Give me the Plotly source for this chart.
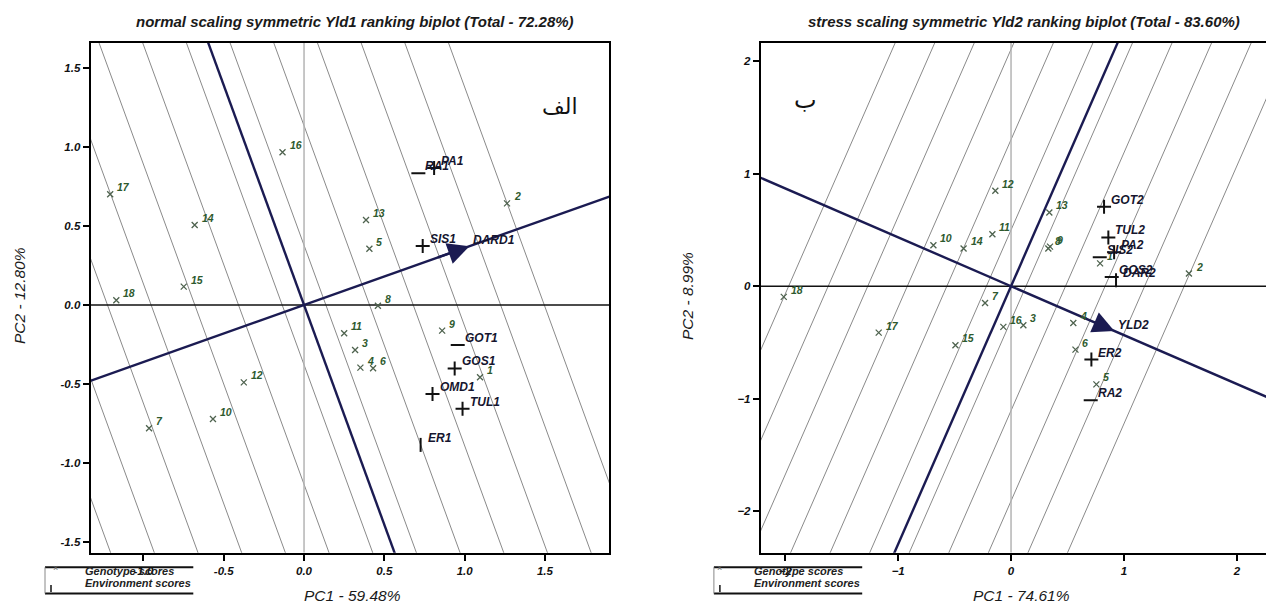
import numpy as np
import plotly.graph_objects as go

W, H = 1266, 606

# ---------------- data ----------------
GENOTYPES = [str(i) for i in range(1, 19)]

# normal scaling (Yld1) biplot
N_G_PC1 = [1.096, 1.264, 0.318, 0.351, 0.407, 0.430, -0.965, 0.460, 0.860, -0.567,
           0.250, -0.375, 0.386, -0.681, -0.749, -0.134, -1.207, -1.169]
N_G_PC2 = [-0.457, 0.642, -0.284, -0.396, 0.355, -0.400, -0.779, -0.005, -0.162, -0.720,
           -0.179, -0.489, 0.537, 0.505, 0.116, 0.965, 0.699, 0.030]
N_E_NAMES = ['RA1', 'PA1', 'SIS1', 'GOT1', 'GOS1', 'OMD1', 'TUL1', 'ER1']
N_E_PC1 = [0.712, 0.810, 0.739, 0.957, 0.938, 0.800, 0.987, 0.726]
N_E_PC2 = [0.832, 0.866, 0.373, -0.253, -0.401, -0.562, -0.655, -0.884]
N_AEC_TIP = [1.03, 0.371]
N_AEC_NAME = 'DARD1'
N_RANK_STEP = 0.272
N_RANK_K = list(range(-7, 6))

# stress scaling (Yld2) biplot
S_G_PC1 = [0.788, 1.574, 0.109, 0.551, 0.755, 0.570, -0.230, 0.330, 0.345, -0.687,
           -0.165, -0.139, 0.339, -0.420, -0.492, -0.068, -1.171, -2.011]
S_G_PC2 = [0.203, 0.113, -0.347, -0.327, -0.873, -0.564, -0.149, 0.336, 0.352, 0.365,
           0.463, 0.849, 0.656, 0.336, -0.525, -0.362, -0.413, -0.095]
S_E_NAMES = ['GOT2', 'TUL2', 'PA2', 'SIS2', 'GOS2', 'DAR2', 'ER2', 'RA2']
S_E_PC1 = [0.823, 0.861, 0.912, 0.785, 0.891, 0.929, 0.711, 0.705]
S_E_PC2 = [0.706, 0.434, 0.303, 0.258, 0.083, 0.053, -0.653, -1.015]
S_AEC_TIP = [0.914, -0.398]
S_AEC_NAME = 'YLD2'
S_RANK_STEP = 0.35
S_RANK_K = list(range(0, 11))
S_RANK_START = -1.968

N_XTICKS = [-1.0, -0.5, 0.0, 0.5, 1.0, 1.5]
N_XTICKTEXT = ['-1.0', '-0.5', '0.0', '0.5', '1.0', '1.5']
N_YTICKS = [-1.5, -1.0, -0.5, 0.0, 0.5, 1.0, 1.5]
N_YTICKTEXT = ['-1.5', '-1.0', '-0.5', '0.0', '0.5', '1.0', '1.5']
S_XTICKS = [-2, -1, 0, 1, 2]
S_YTICKS = [-2, -1, 0, 1, 2]

N_TITLE = 'normal scaling symmetric Yld1 ranking biplot (Total - 72.28%)'
S_TITLE = 'stress scaling symmetric Yld2 ranking biplot (Total - 83.60%)'
N_XTITLE, N_YTITLE = 'PC1 - 59.48%', 'PC2 - 12.80%'
S_XTITLE, S_YTITLE = 'PC1 - 74.61%', 'PC2 - 8.99%'

# ---------------- styles ----------------
N_E_SYMBOL = {'RA1': 'line-ew', 'GOT1': 'line-ew', 'ER1': 'line-ns'}
S_E_SYMBOL = {'SIS2': 'line-ew', 'GOS2': 'line-ew', 'RA2': 'line-ew', 'DAR2': 'line-ns'}

NAVY = '#1b1b52'
G_MARK = '#4f634f'
G_TEXT = '#2e5a2e'
E_TEXT = '#15152e'
FONT = 'Liberation Sans, Arial, sans-serif'

N_XR, N_YR = [-1.329, 1.899], [-1.565, 1.655]
S_XR, S_YR = [-2.216, 2.256], [-2.371, 2.164]


def px(x):
    return x / W


def py(y):
    return 1 - y / H


fig = go.Figure()
annotations = []
shapes = []


def panel(xa, ya, xr, yr, g_x, g_y, e_names, e_x, e_y, e_sym, tip, tip_name,
          rank_cs):
    s = tip[1] / tip[0]
    d = np.array([1.0, s])
    e = np.array([-s, 1.0]) / np.hypot(s, 1.0)
    t = np.array([-20.0, 20.0])
    # ranking lines, perpendicular to the average-environment axis
    for c in rank_cs:
        p0 = c * d / d.dot(d)
        pts = p0[:, None] + e[:, None] * t
        fig.add_trace(go.Scatter(x=pts[0], y=pts[1], mode='lines',
                                 line=dict(color='#8a8a8a', width=1),
                                 xaxis=xa, yaxis=ya, hoverinfo='skip', showlegend=False))
    # x = 0 light line, y = 0 black line
    fig.add_trace(go.Scatter(x=[0, 0], y=[yr[0], yr[1]], mode='lines',
                             line=dict(color='#b4b4b4', width=1.5),
                             xaxis=xa, yaxis=ya, hoverinfo='skip', showlegend=False))
    fig.add_trace(go.Scatter(x=[xr[0], xr[1]], y=[0, 0], mode='lines',
                             line=dict(color='#111111', width=1.6),
                             xaxis=xa, yaxis=ya, hoverinfo='skip', showlegend=False))
    # AEC abscissa and ordinate
    fig.add_trace(go.Scatter(x=[-20, 20], y=[-20 * s, 20 * s], mode='lines',
                             line=dict(color=NAVY, width=2.4),
                             xaxis=xa, yaxis=ya, hoverinfo='skip', showlegend=False))
    fig.add_trace(go.Scatter(x=[40 * e[0], -40 * e[0]], y=[40 * e[1], -40 * e[1]],
                             mode='lines', line=dict(color=NAVY, width=2.4),
                             xaxis=xa, yaxis=ya, hoverinfo='skip', showlegend=False))
    # genotypes
    fig.add_trace(go.Scatter(x=g_x, y=g_y, mode='markers',
                             marker=dict(symbol='x-thin', size=6,
                                         line=dict(color=G_MARK, width=1.3)),
                             xaxis=xa, yaxis=ya, showlegend=False))
    # environments
    syms = [e_sym.get(n, 'cross-thin') for n in e_names]
    fig.add_trace(go.Scatter(x=e_x, y=e_y, mode='markers',
                             marker=dict(symbol=syms, size=10,
                                         line=dict(color='#111111', width=2)),
                             xaxis=xa, yaxis=ya, showlegend=False))
    for lab, x, y in zip(GENOTYPES, g_x, g_y):
        annotations.append(dict(x=x, y=y, xref=xa, yref=ya, text=lab, showarrow=False,
                                xanchor='left', yanchor='middle', xshift=5, yshift=7,
                                font=dict(family=FONT, size=10.5, color=G_TEXT,
                                          style='italic', weight='bold')))
    for lab, x, y in zip(e_names, e_x, e_y):
        annotations.append(dict(x=x, y=y, xref=xa, yref=ya, text=lab, showarrow=False,
                                xanchor='left', yanchor='middle', xshift=5, yshift=7,
                                font=dict(family=FONT, size=12, color=E_TEXT,
                                          style='italic', weight='bold')))
    # arrow head
    annotations.append(dict(x=tip[0], y=tip[1], ax=tip[0] * 0.8, ay=tip[1] * 0.8,
                            xref=xa, yref=ya, axref=xa, ayref=ya, text='',
                            showarrow=True, arrowhead=2, arrowsize=1.8, arrowwidth=2.4,
                            arrowcolor=NAVY, standoff=0))
    annotations.append(dict(x=tip[0], y=tip[1], xref=xa, yref=ya, text=tip_name,
                            showarrow=False, xanchor='left', yanchor='middle',
                            xshift=2, yshift=6,
                            font=dict(family=FONT, size=12, color=E_TEXT,
                                      style='italic', weight='bold')))


panel('x', 'y', N_XR, N_YR, N_G_PC1, N_G_PC2, N_E_NAMES, N_E_PC1, N_E_PC2,
      N_E_SYMBOL, N_AEC_TIP, N_AEC_NAME, [(k + 0.5) * N_RANK_STEP for k in N_RANK_K])
panel('x2', 'y2', S_XR, S_YR, S_G_PC1, S_G_PC2, S_E_NAMES, S_E_PC1, S_E_PC2,
      S_E_SYMBOL, S_AEC_TIP, S_AEC_NAME, [S_RANK_START + k * S_RANK_STEP for k in S_RANK_K])

tickfont = dict(family=FONT, size=11.5, color='#111111', style='italic', weight='bold')
axis_common = dict(showgrid=False, zeroline=False, showline=True, linecolor='#000000',
                   linewidth=2, ticks='outside', ticklen=6, tickwidth=1.5,
                   tickcolor='#000000', tickfont=tickfont)

ydom = [py(552.7), py(43)]
fig.update_layout(
    width=W, height=H, margin=dict(l=0, r=0, t=0, b=0),
    paper_bgcolor='white', plot_bgcolor='white', showlegend=False,
    xaxis=dict(domain=[px(90.6), px(609)], range=N_XR, tickvals=N_XTICKS,
               ticktext=N_XTICKTEXT, mirror=True, anchor='y', **axis_common),
    yaxis=dict(domain=ydom, range=N_YR, tickvals=N_YTICKS, ticktext=N_YTICKTEXT,
               mirror=True, anchor='x', **axis_common),
    xaxis2=dict(domain=[px(760.6), 1.0], range=S_XR, tickvals=S_XTICKS,
                mirror=True, anchor='y2', **axis_common),
    yaxis2=dict(domain=ydom, range=S_YR, tickvals=S_YTICKS, mirror=False,
                anchor='x2', **axis_common),
)

# titles and axis titles
title_font = dict(family=FONT, size=15, color='#1a1a1a', style='italic', weight='bold')
axis_font = dict(family=FONT, size=15.5, color='#1a1a1a', style='italic')
for txt, cx in [(N_TITLE, 355), (S_TITLE, 1024)]:
    annotations.append(dict(x=px(cx), y=py(22), xref='paper', yref='paper', text=txt,
                            showarrow=False, xanchor='center', yanchor='middle',
                            font=title_font))
for txt, cx in [(N_XTITLE, 352), (S_XTITLE, 1021)]:
    annotations.append(dict(x=px(cx), y=py(595), xref='paper', yref='paper', text=txt,
                            showarrow=False, xanchor='center', yanchor='middle',
                            font=axis_font))
for txt, cx in [(N_YTITLE, 19), (S_YTITLE, 687)]:
    annotations.append(dict(x=px(cx), y=py(296), xref='paper', yref='paper', text=txt,
                            showarrow=False, xanchor='center', yanchor='middle',
                            textangle=-90, font=axis_font))

# Persian panel letters
annotations.append(dict(x=px(560), y=py(92), xref='paper', yref='paper', text='الف',
                        showarrow=False, font=dict(family='DejaVu Sans', size=22,
                                                   color='#111111')))
annotations.append(dict(x=px(806), y=py(84), xref='paper', yref='paper', text='ب',
                        showarrow=False, font=dict(family='DejaVu Sans', size=24,
                                                   color='#111111')))

# legend boxes
leg_font = dict(family=FONT, size=11, color='#222222', style='italic', weight='bold')
for bx in [45, 713.9]:
    shapes.append(dict(type='line', xref='paper', yref='paper', x0=px(bx), x1=px(bx + 148.3),
                       y0=py(567.3), y1=py(567.3), line=dict(color='#111111', width=2)))
    shapes.append(dict(type='line', xref='paper', yref='paper', x0=px(bx), x1=px(bx + 148.3),
                       y0=py(593.5), y1=py(593.5), line=dict(color='#111111', width=2)))
    shapes.append(dict(type='line', xref='paper', yref='paper', x0=px(bx), x1=px(bx),
                       y0=py(567.3), y1=py(593.5), line=dict(color='#888888', width=1)))
    shapes.append(dict(type='line', xref='paper', yref='paper', x0=px(bx + 6), x1=px(bx + 6),
                       y0=py(585), y1=py(592), line=dict(color='#111111', width=1.5)))
    annotations.append(dict(x=px(bx + 6), y=py(575), xref='paper', yref='paper', text='×',
                            showarrow=False, font=dict(family=FONT, size=9, color='#666666')))
    annotations.append(dict(x=px(bx + 37.7), y=py(571), xref='paper', yref='paper',
                            text='Genotype scores', showarrow=False, xanchor='left',
                            yanchor='middle', font=leg_font))
    annotations.append(dict(x=px(bx + 37.7), y=py(583), xref='paper', yref='paper',
                            text='Environment scores', showarrow=False, xanchor='left',
                            yanchor='middle', font=leg_font))

fig.update_layout(annotations=annotations, shapes=shapes)
# the page body's default 8px margin would shift the figure; remove it
fig.write_html('out.html', config={'displayModeBar': False},
               post_script="document.body.style.margin='0';document.body.style.overflow='hidden';")
